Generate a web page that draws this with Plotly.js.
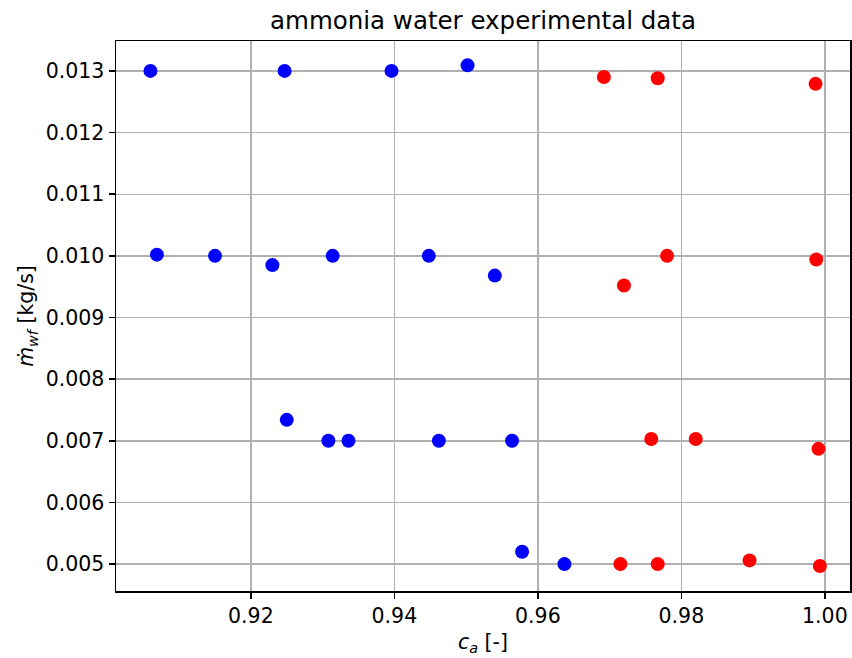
<!DOCTYPE html>
<html>
<head>
<meta charset="utf-8">
<script src="https://cdn.plot.ly/plotly-3.0.1.min.js"></script>
<style>html,body{margin:0;padding:0;background:#fff;}#chart{width:852px;height:658px;}</style>
</head>
<body>
<div id="chart"></div>
<script>
// Blue series
const blueC = [0.9060, 0.9247, 0.9396, 0.9502,
               0.9069, 0.9150, 0.9230, 0.9314, 0.9448, 0.9540,
               0.9250, 0.9308, 0.9336, 0.9462, 0.9564,
               0.9578, 0.9637];
const blueM = [0.01300, 0.01300, 0.01300, 0.01309,
               0.01002, 0.01000, 0.00985, 0.01000, 0.01000, 0.00968,
               0.00734, 0.00700, 0.00700, 0.00700, 0.00700,
               0.00520, 0.00500];
// Red series
const redC = [0.9692, 0.9767, 0.9987,
              0.9720, 0.9780, 0.9988,
              0.9758, 0.9820, 0.9991,
              0.9715, 0.9767, 0.9895, 0.9993];
const redM = [0.01290, 0.01288, 0.01279,
              0.00952, 0.01000, 0.00994,
              0.00703, 0.00703, 0.00687,
              0.00500, 0.00500, 0.00506, 0.00497];

const titleText = "ammonia water experimental data";
const xTitle = "<i>c</i><sub><i>a</i></sub> [-]";
const yTitle = "<i>ṁ</i><sub><i>wf</i></sub> [kg/s]";

const font = "DejaVu Sans, sans-serif";

const traces = [
  {x: blueC, y: blueM, type: "scatter", mode: "markers",
   marker: {color: "#0000ff", size: 14}, hoverinfo: "none"},
  {x: redC, y: redM, type: "scatter", mode: "markers",
   marker: {color: "#ff0000", size: 14}, hoverinfo: "none"}
];

const axisCommon = {
  showgrid: true, gridcolor: "#b0b0b0", gridwidth: 1.4,
  zeroline: false, showline: true, linecolor: "#000", linewidth: 1.5,
  mirror: true, ticks: "outside", ticklen: 6, tickwidth: 1.5, tickcolor: "#000",
  tickfont: {family: font, size: 20.5, color: "#000"}
};

const layout = {
  width: 852, height: 658,
  paper_bgcolor: "#fff", plot_bgcolor: "#fff",
  showlegend: false,
  margin: {l: 116, r: 2, t: 41, b: 67},
  title: {text: titleText, font: {family: font, size: 24.5, color: "#000"},
          x: 0.5, xref: "paper", xanchor: "center",
          y: 1 - 20/658, yref: "container", yanchor: "middle"},
  xaxis: Object.assign({}, axisCommon, {
    range: [0.9012, 1.0035], tick0: 0.92, dtick: 0.02, tickformat: ".2f",
    title: {text: xTitle, font: {family: font, size: 20.5, color: "#000"}, standoff: 7}
  }),
  yaxis: Object.assign({}, axisCommon, {
    range: [0.004564, 0.013485], tick0: 0.005, dtick: 0.001, tickformat: ".3f",
    title: {text: yTitle, font: {family: font, size: 20.5, color: "#000"}, standoff: 6}
  })
};

Plotly.newPlot("chart", traces, layout, {displayModeBar: false, staticPlot: true});
</script>
</body>
</html>
